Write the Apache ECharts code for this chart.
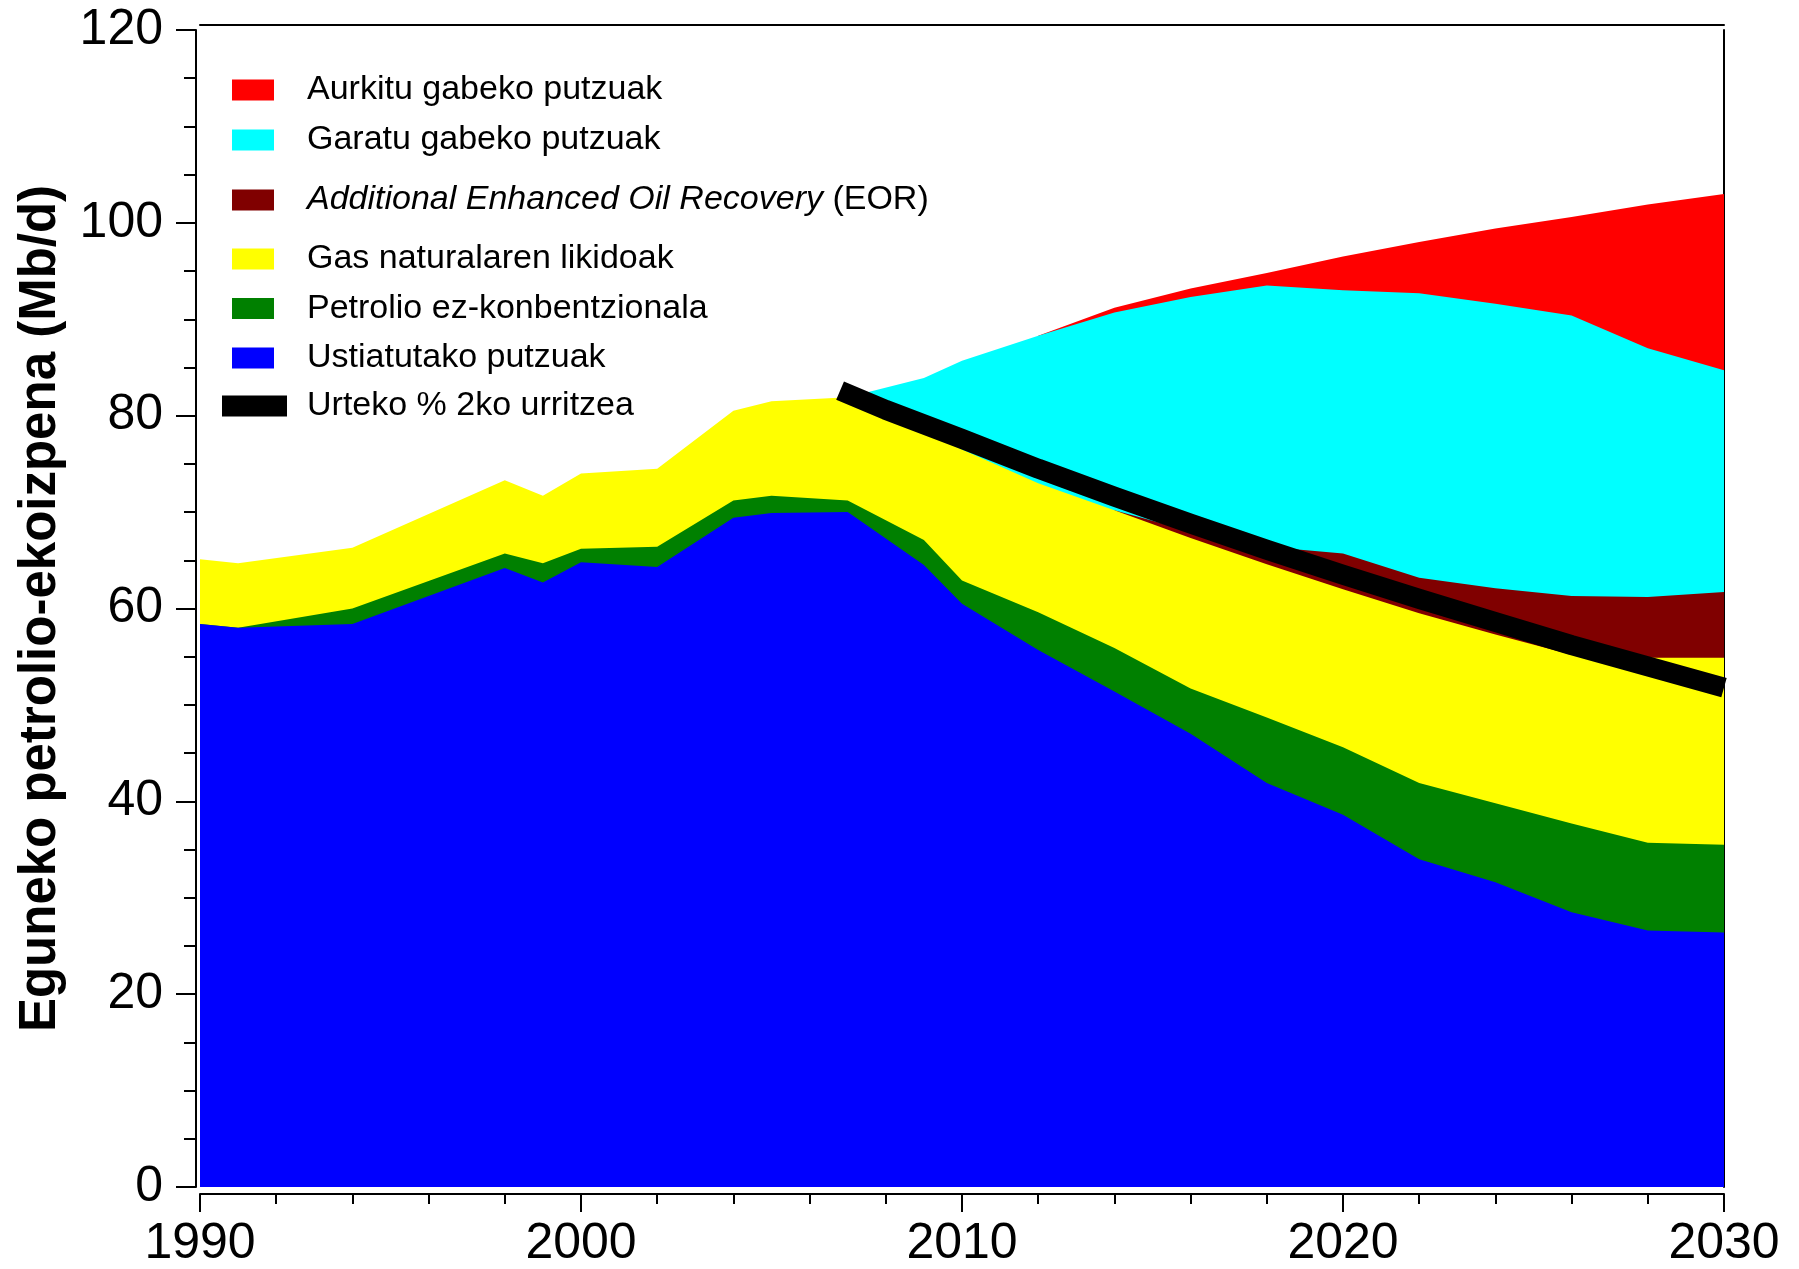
<!DOCTYPE html>
<html>
<head>
<meta charset="utf-8">
<script src="https://cdn.jsdelivr.net/npm/echarts@6/dist/echarts.min.js"></script>
<style>
  html, body { margin: 0; padding: 0; background: #fff; }
  #chart { width: 1799px; height: 1269px; }
</style>
</head>
<body>
<div id="chart"></div>
<script>
(function () {

    // urteak (x ardatza)
    var years = [1990, 1991, 1994, 1998, 1999, 2000, 2002, 2004, 2005, 2007, 2009, 2010,
                 2012, 2014, 2016, 2018, 2020, 2022, 2024, 2026, 2028, 2030];

    // geruza bakoitzaren lodiera (Mb/d), behetik gora
    var ustiatutako = [58.4, 58.0, 58.4, 64.2, 62.7, 64.8, 64.3, 69.4, 69.9, 70.0, 64.5, 60.5,
                       55.7, 51.4, 47.0, 41.9, 38.6, 34.0, 31.6, 28.5, 26.6, 26.4];
    var ezKonbentzionala = [0, 0, 1.6, 1.5, 2.0, 1.4, 2.1, 1.8, 1.8, 1.2, 2.6, 2.4,
                            3.9, 4.5, 4.7, 6.8, 7.0, 7.9, 8.2, 9.2, 9.1, 9.1];
    var gasLikidoak = [6.7, 6.7, 6.3, 7.6, 7.0, 7.8, 8.1, 9.3, 9.8, 10.7, 11.2, 13.6,
                       13.4, 14.3, 15.6, 15.9, 16.4, 17.6, 17.5, 17.5, 19.2, 19.4];
    var eor = [null, null, null, null, null, null, null, null, null, null, null, null,
               null, 0, 0.7, 1.8, 3.7, 3.7, 4.8, 6.1, 6.3, 6.8];
    var garatuGabe = [null, null, null, null, null, null, null, null, null, 0, 5.6, 9.2,
                      15.3, 20.5, 24.3, 27.1, 27.3, 29.5, 29.5, 29.1, 25.8, 23.0];
    var aurkituGabe = [null, null, null, null, null, null, null, null, null, null, null, null,
                       0, 0.5, 0.9, 1.3, 3.5, 5.3, 7.8, 10.2, 14.9, 18.3];

    // urteko %2ko urritzea
    var declineYears = [2006.8, 2008, 2010, 2012, 2014, 2016, 2018, 2020, 2022, 2024, 2026, 2028, 2030];
    var declineValues = [82.6, 80.6, 77.6, 74.5, 71.6, 68.8, 66.1, 63.5, 61.0, 58.6, 56.2, 54.0, 51.8];

    var FONT = '"Liberation Sans", Arial, sans-serif';

    var layers = [
        { name: 'Ustiatutako putzuak', data: ustiatutako, color: '#0000ff' },
        { name: 'Petrolio ez-konbentzionala', data: ezKonbentzionala, color: '#008000' },
        { name: 'Gas naturalaren likidoak', data: gasLikidoak, color: '#ffff00' },
        { name: 'Additional Enhanced Oil Recovery (EOR)', data: eor, color: '#800000' },
        { name: 'Garatu gabeko putzuak', data: garatuGabe, color: '#00ffff' },
        { name: 'Aurkitu gabeko putzuak', data: aurkituGabe, color: '#ff0000' }
    ];

    // metatu: geruza bakoitzaren goiko muga
    var running = years.map(function () { return 0; });
    layers.forEach(function (l) {
        l.top = years.map(function (y, i) {
            if (l.data[i] === null) return null;
            running[i] += l.data[i];
            return [y, +running[i].toFixed(2)];
        }).filter(function (p) { return p !== null; });
    });

    // goiko geruza lehenik, azpikoak gainetik marrazten dira
    var series = [];
    layers.slice().reverse().forEach(function (l) {
        series.push({
            name: l.name,
            type: 'line',
            data: l.top,
            showSymbol: false,
            symbol: 'none',
            lineStyle: { width: 0, color: l.color },
            itemStyle: { color: l.color },
            areaStyle: { color: l.color, opacity: 1 },
            emphasis: { disabled: true },
            silent: true
        });
    });
    series.push({
        name: 'Urteko % 2ko urritzea',
        type: 'line',
        data: declineYears.map(function (y, i) { return [y, declineValues[i]]; }),
        showSymbol: false,
        symbol: 'none',
        lineStyle: { width: 20, color: '#000', cap: 'butt', join: 'round' },
        itemStyle: { color: '#000' },
        emphasis: { disabled: true },
        silent: true,
        z: 5
    });

    function legend(names, top, gap, left, w, padLeft, extra) {
        var o = {
            data: names,
            orient: 'vertical',
            left: left,
            top: top,
            padding: 0,
            itemGap: gap,
            itemWidth: w,
            itemHeight: 21,
            icon: 'rect',
            selectedMode: false,
            textStyle: {
                fontFamily: FONT,
                fontSize: 34,
                lineHeight: 40,
                color: '#000',
                padding: [0, 0, 0, padLeft]
            }
        };
        if (extra) Object.keys(extra).forEach(function (k) { o[k] = extra[k]; });
        return o;
    }

    var chart = echarts.init(document.getElementById('chart'));
    chart.setOption({
        animation: false,
        backgroundColor: '#fff',
        grid: { left: 200, right: 75, top: 30, bottom: 81, containLabel: false },
        legend: [
            legend(['Aurkitu gabeko putzuak', 'Garatu gabeko putzuak'], 70, 10, 232, 42, 28),
            legend(['Additional Enhanced Oil Recovery (EOR)'], 180, 10, 232, 42, 28, {
                formatter: '{i|Additional Enhanced Oil Recovery} (EOR)',
                textStyle: {
                    fontFamily: FONT, fontSize: 34, lineHeight: 40, color: '#000',
                    padding: [0, 0, 0, 28],
                    rich: { i: { fontFamily: FONT, fontSize: 34, fontStyle: 'italic', color: '#000' } }
                }
            }),
            legend(['Gas naturalaren likidoak', 'Petrolio ez-konbentzionala', 'Ustiatutako putzuak'], 239, 9.5, 232, 42, 28),
            legend(['Urteko % 2ko urritzea'], 386, 10, 222, 65, 15)
        ],
        xAxis: [{
            type: 'value',
            min: 1990,
            max: 2030,
            interval: 10,
            offset: 7,
            axisLine: { show: true, onZero: false, lineStyle: { color: '#000', width: 2 } },
            axisTick: { show: true, length: 18, lineStyle: { color: '#000', width: 2 } },
            minorTick: { show: true, splitNumber: 5, length: 10, lineStyle: { color: '#000', width: 2 } },
            axisLabel: {
                fontFamily: FONT, fontSize: 50, color: '#000', margin: 25,
                formatter: function (v) { return String(v); }
            },
            splitLine: { show: false },
            minorSplitLine: { show: false }
        }, {
            type: 'value',
            position: 'top',
            min: 1990,
            max: 2030,
            offset: 5,
            axisLine: { show: true, onZero: false, lineStyle: { color: '#000', width: 2 } },
            axisTick: { show: false },
            axisLabel: { show: false },
            splitLine: { show: false }
        }],
        yAxis: [{
            type: 'value',
            min: 0,
            max: 120,
            interval: 20,
            offset: 4,
            name: 'Eguneko petrolio-ekoizpena (Mb/d)',
            nameLocation: 'middle',
            nameGap: 130,
            nameTextStyle: { fontFamily: FONT, fontWeight: 'bold', fontSize: 51, color: '#000' },
            axisLine: { show: true, onZero: false, lineStyle: { color: '#000', width: 2 } },
            axisTick: { show: true, length: 20, lineStyle: { color: '#000', width: 2 } },
            minorTick: { show: true, splitNumber: 4, length: 12, lineStyle: { color: '#000', width: 2 } },
            axisLabel: { fontFamily: FONT, fontSize: 50, color: '#000', margin: 33 },
            splitLine: { show: false },
            minorSplitLine: { show: false }
        }, {
            type: 'value',
            position: 'right',
            min: 0,
            max: 120,
            axisLine: { show: true, onZero: false, lineStyle: { color: '#000', width: 2 } },
            axisTick: { show: false },
            axisLabel: { show: false },
            splitLine: { show: false }
        }],
        series: series
    });

})();
</script>
</body>
</html>
